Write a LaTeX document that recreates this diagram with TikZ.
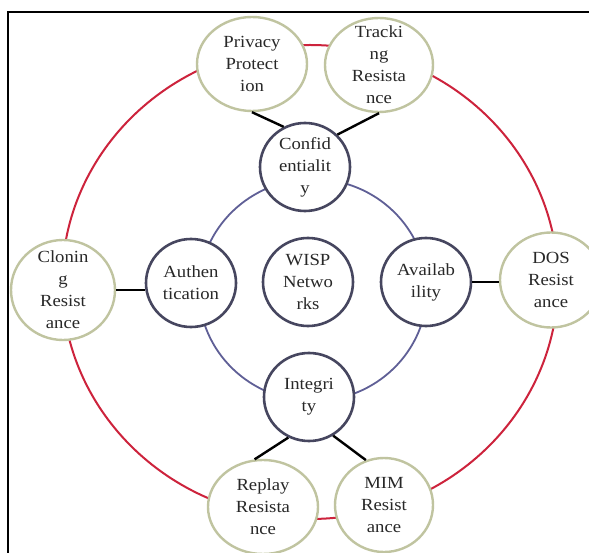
\documentclass[tikz,border=0pt]{standalone}
\usepackage{fontspec}
\setmainfont{Liberation Serif}[FakeStretch=1.1]
\usetikzlibrary{shapes.geometric}

\definecolor{ringred}{RGB}{205,35,60}
\definecolor{ringblue}{RGB}{95,95,150}
\definecolor{coreedge}{RGB}{70,70,95}
\definecolor{leafedge}{RGB}{192,196,160}
\definecolor{inktext}{RGB}{40,40,40}

\tikzset{
  nodetext/.style={align=center, text=inktext, inner sep=0pt,
                   font=\fontsize{17}{22}\selectfont},
  core/.style={ellipse, draw=coreedge, line width=2.6pt, fill=white,
               minimum width=90pt, minimum height=88pt, inner sep=0pt,
               label={[nodetext]center:#1}},
  leaf/.style={ellipse, draw=leafedge, line width=2.4pt, fill=white,
               minimum width=106pt, minimum height=96pt, inner sep=0pt,
               label={[nodetext]center:#1}},
  link/.style={line width=2.4pt, black},
  frameline/.style={line width=2.6pt, black},
}

\begin{document}
\begin{tikzpicture}[x=1pt, y=-1pt]
  \useasboundingbox (0,0) rectangle (589,553);
  \clip (0,0) rectangle (589,553);
  \fill[white] (0,0) rectangle (589,553);

  % outer frame (left and top edges)
  \draw[frameline] (8,560) -- (8,12) -- (600,12);

  % outer and inner rings
  \draw[ringred, line width=2pt] (310,282) ellipse [x radius=248pt, y radius=237pt];
  \draw[ringblue, line width=1.8pt] (313,290) ellipse [x radius=114pt, y radius=111pt];

  % core properties
  \node[core={WISP\\Netwo\\rks}]          (wisp)  at (308,282) {};
  \node[core={Confid\\entialit\\y}]       (conf)  at (305,167) {};
  \node[core={Authen\\tication}]          (auth)  at (191,283) {};
  \node[core={Availab\\ility}]            (avail) at (426,282) {};
  \node[core={Integri\\ty}]               (integ) at (309,397) {};

  % resistance properties
  \node[leaf={Privacy\\Protect\\ion}, minimum width=110pt, minimum height=94pt]     (priv)   at (252,64) {};
  \node[leaf={Tracki\\ng\\Resista\\nce}, minimum width=108pt, minimum height=94pt]  (track)  at (379,65) {};
  \node[leaf={Clonin\\g\\Resist\\ance}, minimum width=104pt, minimum height=100pt]  (clon)   at (63,290) {};
  \node[leaf={DOS\\Resist\\ance}, minimum width=102pt, minimum height=95pt]         (dos)    at (551,280) {};
  \node[leaf={Replay\\Resista\\nce}, minimum width=110pt, minimum height=94pt]      (replay) at (263,507) {};
  \node[leaf={MIM\\Resist\\ance}, minimum width=98pt, minimum height=94pt]          (mim)    at (384,505) {};

  % connectors
  \draw[link] (priv.south)  -- (conf.118);
  \draw[link] (track.south) -- (conf.45);
  \draw[link] (clon.east)   -- (clon.east -| auth.west);
  \draw[link] (avail.east)  -- (avail.east -| dos.west);
  \draw[link] (integ.243)   -- (replay.100);
  \draw[link] (integ.302)   -- (mim.112);
\end{tikzpicture}
\end{document}
